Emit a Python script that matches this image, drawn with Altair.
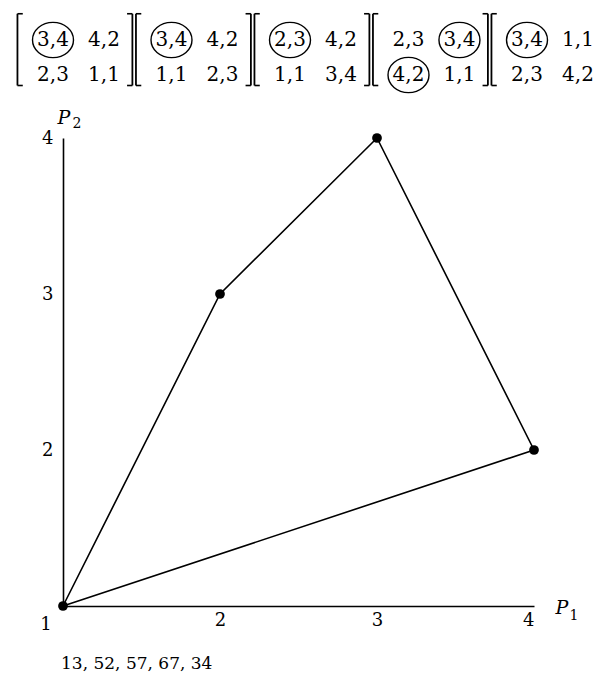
import altair as alt
import pandas as pd

# Payoff points (P1, P2) and the convex hull that joins them
p1_vals = [1, 2, 3, 4]
p2_vals = [1, 3, 4, 2]
hull_order = [0, 1, 2, 3, 0]

axis_ticks = [2, 3, 4]
corner_label = "1"
footnote = "13, 52, 57, 67, 34"

# Five 2x2 payoff matrices, entries row-major
matrices = [
    ["3,4", "4,2", "2,3", "1,1"],
    ["3,4", "4,2", "1,1", "2,3"],
    ["2,3", "4,2", "1,1", "3,4"],
    ["2,3", "3,4", "4,2", "1,1"],
    ["3,4", "1,1", "2,3", "4,2"],
]
circled = [[0], [0], [0], [1, 2], [0]]

FONT = "DejaVu Serif"

# ---------------- main plot ----------------
pts = pd.DataFrame({"p1": p1_vals, "p2": p2_vals})
hull = pd.DataFrame({
    "p1": [p1_vals[i] for i in hull_order],
    "p2": [p2_vals[i] for i in hull_order],
    "order": list(range(len(hull_order))),
})

xs = alt.Scale(domain=[1, 4], nice=False, zero=False)
ys = alt.Scale(domain=[1, 4], nice=False, zero=False)
common_axis = dict(values=axis_ticks, title=None, grid=False, ticks=False, tickSize=0,
                   domainColor="black", domainWidth=1.6, labelFont=FONT,
                   labelFontSize=18, labelColor="black")
x_axis = alt.Axis(labelPadding=5, **common_axis)
y_axis = alt.Axis(labelPadding=10, **common_axis)

X = alt.X("p1:Q", scale=xs, axis=x_axis)
Y = alt.Y("p2:Q", scale=ys, axis=y_axis)

lines = alt.Chart(hull).mark_line(color="black", strokeWidth=1.6).encode(
    x=X, y=Y, order="order:Q")
points = alt.Chart(pts).mark_circle(color="black", opacity=1, size=95).encode(x=X, y=Y)

origin = pd.DataFrame({"p1": [p1_vals[0]], "p2": [p2_vals[0]], "t": [corner_label], "f": [footnote]})
corner = alt.Chart(origin).mark_text(font=FONT, fontSize=18, color="black",
                                     dx=-17, dy=19).encode(x=X, y=Y, text="t:N")
foot = alt.Chart(origin).mark_text(font=FONT, fontSize=17, color="black", align="left",
                                   dx=-2, dy=58).encode(x=X, y=Y, text="f:N")

top_anchor = pd.DataFrame({"p1": [1], "p2": [4], "t": ["P"], "s": ["2"]})
right_anchor = pd.DataFrame({"p1": [4], "p2": [1], "t": ["P"], "s": ["1"]})
p2_main = alt.Chart(top_anchor).mark_text(font=FONT, fontSize=19, fontStyle="italic",
                                          color="black", dx=1, dy=-20).encode(x=X, y=Y, text="t:N")
p2_sub = alt.Chart(top_anchor).mark_text(font=FONT, fontSize=14, color="black",
                                         dx=14, dy=-14).encode(x=X, y=Y, text="s:N")
p1_main = alt.Chart(right_anchor).mark_text(font=FONT, fontSize=19, fontStyle="italic",
                                            color="black", dx=28, dy=2).encode(x=X, y=Y, text="t:N")
p1_sub = alt.Chart(right_anchor).mark_text(font=FONT, fontSize=14, color="black",
                                           dx=40, dy=10).encode(x=X, y=Y, text="s:N")

main_layer = alt.layer(lines, points, corner, foot, p2_main, p2_sub, p1_main, p1_sub)

# ---------------- matrices on top ----------------
rows = []
for m, entries in enumerate(matrices):
    for k, lab in enumerate(entries):
        rows.append({"m": m, "r": k // 2, "c": k % 2, "label": lab, "circ": k in circled[m]})
mdf = pd.DataFrame(rows)

mx = alt.Scale(domain=[0, 4], range=[-10, 464], nice=False, zero=False)
my = alt.Scale(domain=[0, 1], range=[-98, -63], nice=False, zero=False)

base_m = alt.Chart(mdf).transform_calculate(xm="datum.m + 0.43*datum.c")
mtext = base_m.mark_text(font=FONT, fontSize=20, color="black").encode(
    x=alt.X("xm:Q", scale=mx, axis=None), y=alt.Y("r:Q", scale=my, axis=None), text="label:N")
ellipse = "M-1,0A1,0.86,0,1,1,1,0A1,0.86,0,1,1,-1,0Z"
mcirc = base_m.transform_filter("datum.circ").mark_point(
    shape=ellipse, size=1680, color="black", strokeWidth=1.4, filled=False, opacity=1
).encode(x=alt.X("xm:Q", scale=mx, axis=None), y=alt.Y("r:Q", scale=my, axis=None))

brk = []
for m in range(len(matrices)):
    brk.append({"bx": m - 0.30, "tip": m - 0.30 + 0.045})
    if m < len(matrices) - 1:
        brk.append({"bx": m + 0.67, "tip": m + 0.67 - 0.045})
bdf = pd.DataFrame(brk)
bdf["top"] = -0.75
bdf["bot"] = 1.3
serif = pd.concat([bdf.assign(yy=bdf["top"]), bdf.assign(yy=bdf["bot"])], ignore_index=True)

vrule = alt.Chart(bdf).mark_rule(color="black", strokeWidth=1.8).encode(
    x=alt.X("bx:Q", scale=mx, axis=None), y=alt.Y("top:Q", scale=my, axis=None), y2="bot:Q")
hrule = alt.Chart(serif).mark_rule(color="black", strokeWidth=1.6).encode(
    x=alt.X("bx:Q", scale=mx, axis=None), x2="tip:Q", y=alt.Y("yy:Q", scale=my, axis=None))

matrix_layer = alt.layer(vrule, hrule, mcirc, mtext)

chart = alt.layer(main_layer, matrix_layer).resolve_scale(
    x="independent", y="independent"
).properties(
    width=471, height=468,
    padding={"left": 55, "top": 130, "right": 63, "bottom": 70},
    autosize=alt.AutoSizeParams(type="none"),
    background="white",
).configure_view(stroke=None)

chart.save("out.html", embed_options={"renderer": "svg", "actions": False})
